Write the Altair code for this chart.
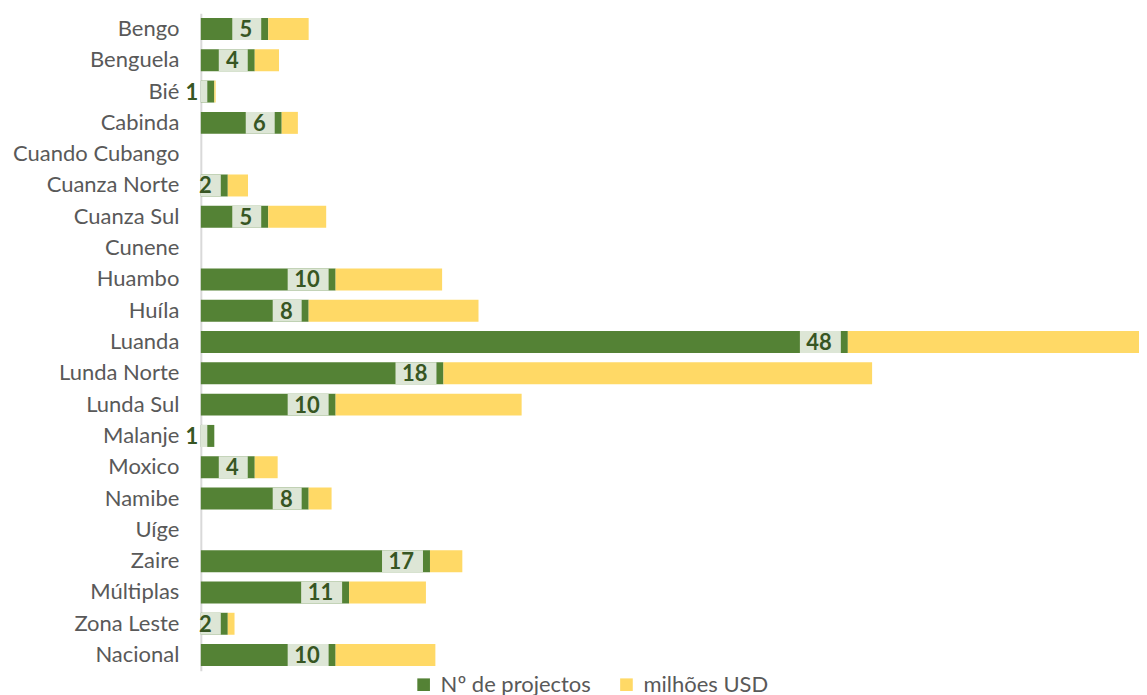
import altair as alt
import pandas as pd

regions = ["Bengo", "Benguela", "Bié", "Cabinda", "Cuando Cubango", "Cuanza Norte",
           "Cuanza Sul", "Cunene", "Huambo", "Huíla", "Luanda", "Lunda Norte",
           "Lunda Sul", "Malanje", "Moxico", "Namibe", "Uíge", "Zaire", "Múltiplas",
           "Zona Leste", "Nacional"]
projects = [5, 4, 1, 6, 0, 2, 5, 0, 10, 8, 48, 18, 10, 1, 4, 8, 0, 17, 11, 2, 10]
usd = [3.0, 1.8, 0.1, 1.2, 0, 1.5, 4.3, 0, 7.9, 12.6, 21.6, 31.8, 13.8, 0, 1.7, 1.7,
       0, 2.4, 5.7, 0.5, 7.4]
series = ["Nº de projectos", "milhões USD"]
colors = ["#548235", "#ffd966"]

rows = []
for r, p, u in zip(regions, projects, usd):
    rows.append({"region": r, "series": series[0], "value": p, "ord": 0})
    rows.append({"region": r, "series": series[1], "value": u, "ord": 1})
long_df = pd.DataFrame(rows)
wide_df = pd.DataFrame({"region": regions, "projects": projects})

FONT = "Lato"
xscale = alt.Scale(domain=[0, 69.6], nice=False, zero=True)
yenc = alt.Y("region:N", sort=regions,
             scale=alt.Scale(paddingInner=0.3, paddingOuter=0.15),
             axis=alt.Axis(title=None, ticks=False, grid=False, labelFont=FONT,
                           labelFontSize=22, labelColor="#595959", labelPadding=22,
                           domainColor="#d9d9d9", domainWidth=2))

bars = alt.Chart(long_df).mark_bar(size=22).encode(
    y=yenc,
    x=alt.X("value:Q", stack="zero", scale=xscale, axis=None),
    color=alt.Color("series:N", scale=alt.Scale(domain=series, range=colors),
                    legend=alt.Legend(title=None, orient="none", direction="horizontal",
                                      legendX=212, legendY=661, symbolType="square",
                                      symbolSize=160, symbolStrokeWidth=0,
                                      labelFont=FONT, labelFontSize=22,
                                      labelColor="#595959", columnPadding=24,
                                      labelOffset=6)),
    order=alt.Order("ord:Q"),
)

box1 = alt.Chart(wide_df).transform_filter(
    "datum.projects > 0 && datum.projects < 10"
).mark_bar(size=22, color="#dde6d6", xOffset=-7, x2Offset=-36, clip=True).encode(
    y=alt.Y("region:N", sort=regions), x=alt.X("projects:Q", scale=xscale), x2="projects:Q")

box2 = alt.Chart(wide_df).transform_filter(
    "datum.projects >= 10"
).mark_bar(size=22, color="#dde6d6", xOffset=-7, x2Offset=-48, clip=True).encode(
    y=alt.Y("region:N", sort=regions), x=alt.X("projects:Q", scale=xscale), x2="projects:Q")

labels = alt.Chart(wide_df).transform_filter("datum.projects > 0").mark_text(
    align="right", baseline="middle", dx=-16, dy=1, font=FONT, fontSize=22,
    fontWeight="bold", color="#375623"
).encode(y=alt.Y("region:N", sort=regions), x=alt.X("projects:Q", scale=xscale),
         text="projects:Q")

chart = alt.layer(bars, box1, box2, labels).properties(
    width=939, height=658,
    padding={"left": 4, "top": 5, "right": 0, "bottom": 0},
).configure_view(stroke=None)

chart.save("out.html", embed_options={"renderer": "svg", "actions": False})
